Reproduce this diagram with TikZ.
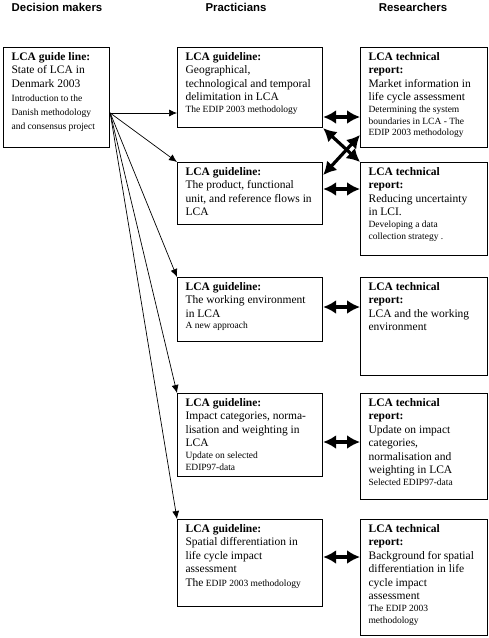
\documentclass[tikz,border=0pt]{standalone}
\usepackage{fontspec}
\setmainfont{Liberation Serif}
\setsansfont{Liberation Sans}
\usetikzlibrary{arrows.meta}
\newcommand{\ttl}[1]{{\fontsize{11.5}{13.5}\selectfont\bfseries #1\par}}
\newcommand{\mtx}[1]{{\fontsize{11.5}{13.5}\selectfont #1\par}}
\newcommand{\stx}[2][11.8]{{\fontsize{9.5}{#1}\selectfont #2\par}}
\newcommand{\cell}[3]{\parbox[t][#2][t]{#1}{\raggedright #3}}
\begin{document}
\begin{tikzpicture}[x=1pt,y=-1pt,
 bx/.style={draw,line width=1.2pt,anchor=north west,inner xsep=8pt,inner ysep=4.5pt},
 hd/.style={font=\sffamily\bfseries\fontsize{11.4}{13}\selectfont},
 fan/.style={-{Latex[length=8pt,width=7pt]},line width=0.7pt},
 dbl/.style={{Latex[length=13pt,width=14pt]}-{Latex[length=13pt,width=14pt]},line width=3.2pt}]
\useasboundingbox (0,0) rectangle (489,638);
% column heads
\node[hd] (h1) at (57,7) {Decision makers};
\node[hd] (h2) at (236,7) {Practicians};
\node[hd] (h3) at (413,7) {Researchers};
% decision makers
\node[bx] (dm) at (3,47) {\cell{90pt}{91pt}{\ttl{LCA guide line:}\mtx{State of LCA in\\Denmark 2003}\stx[14]{Introduction to the\\Danish methodology\\and consensus project}}};
% practicians
\node[bx] (p1) at (177,47) {\cell{129pt}{71pt}{\ttl{LCA guideline:}\mtx{Geographical,\\technological and temporal\\delimitation in LCA}\stx{The EDIP 2003 methodology}}};
\node[bx] (p2) at (177,162) {\cell{129pt}{53pt}{\ttl{LCA guideline:}\mtx{The product, functional\\unit, and reference flows in\\LCA}}};
\node[bx] (p3) at (177,277) {\cell{129pt}{55pt}{\ttl{LCA guideline:}\mtx{The working environment\\in LCA}\stx{A new approach}}};
\node[bx] (p4) at (177,393) {\cell{129pt}{74pt}{\ttl{LCA guideline:}\mtx{Impact categories, norma-\\lisation and weighting in\\LCA}\stx{Update on selected\\EDIP97-data}}};
\node[bx] (p5) at (177,519) {\cell{129pt}{78pt}{\ttl{LCA guideline:}\mtx{Spatial differentiation in\\life cycle impact\\assessment}\stx[14]{{\fontsize{11.5}{13.5}\selectfont The} EDIP 2003 methodology}}};
% researchers
\node[bx] (r1) at (360,47) {\cell{111pt}{91pt}{\ttl{LCA technical\\report:}\mtx{Market information in\\life cycle assessment}\stx{Determining the system\\boundaries in LCA - The\\EDIP 2003 methodology}}};
\node[bx] (r2) at (360,162) {\cell{111pt}{84pt}{\ttl{LCA technical\\report:}\mtx{Reducing uncertainty\\in LCI.}\stx{Developing a data\\collection strategy .}}};
\node[bx] (r3) at (360,277) {\cell{111pt}{89pt}{\ttl{LCA technical\\report:}\mtx{LCA and the working\\environment}}};
\node[bx] (r4) at (360,393) {\cell{111pt}{97pt}{\ttl{LCA technical\\report:}\mtx{Update on impact\\categories,\\normalisation and\\weighting in LCA}\stx{Selected EDIP97-data}}};
\node[bx] (r5) at (360,519) {\cell{111pt}{107pt}{\ttl{LCA technical\\report:}\mtx{Background for spatial\\differentiation in life\\cycle impact\\assessment}\stx{The EDIP 2003\\methodology}}};
% decision makers to practicians
\coordinate (src) at ([yshift=-66pt]dm.north east);
\draw[fan] (src) -- (src -| p1.west);
\foreach \t in {p2,p3,p4,p5}
 \draw[fan] (src) -- (\t.north west);
% practicians to researchers
\draw[dbl] ([yshift=-70pt]p1.north east) -- ([yshift=-70pt]r1.north west);
\draw[dbl] ([yshift=-27pt]p2.north east) -- ([yshift=-27pt]r2.north west);
\draw[dbl] ([yshift=-30pt]p3.north east) -- ([yshift=-30pt]r3.north west);
\draw[dbl] ([yshift=-49pt]p4.north east) -- ([yshift=-49pt]r4.north west);
\draw[dbl] ([yshift=-38pt]p5.north east) -- ([yshift=-38pt]r5.north west);
\draw[dbl] (p1.south east) -- (r2.north west);
\draw[dbl] ([yshift=-88pt]r1.north west) -- ([yshift=-13pt]p2.north east);
\end{tikzpicture}
\end{document}
